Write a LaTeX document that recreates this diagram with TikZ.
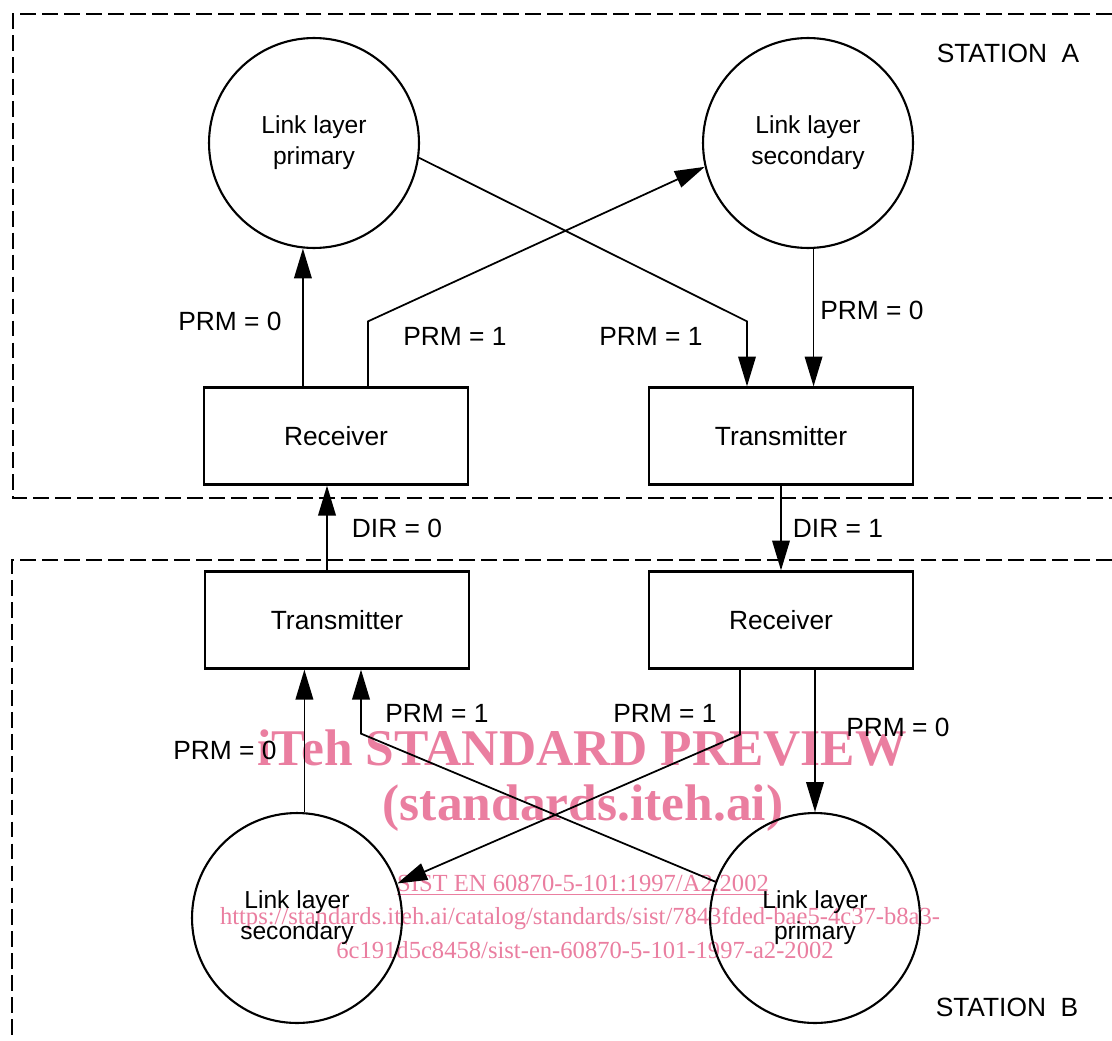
\documentclass[tikz,border=0pt]{standalone}
\usepackage{fontspec}
\setmainfont{Liberation Sans}
\newfontfamily\wmfont{Liberation Serif}
\usetikzlibrary{arrows.meta,positioning,calc}
\definecolor{wmpink}{RGB}{234,126,160}
\tikzset{
  layer/.style={draw,circle,line width=1.2pt,minimum size=4.2cm,inner sep=0pt,align=center,font=\fontsize{14}{17.5}\selectfont},
  unit/.style={draw,line width=1.3pt,minimum width=5.28cm,minimum height=1.94cm,font=\fontsize{15}{18}\selectfont},
  lbl/.style={font=\fontsize{15}{18}\selectfont,inner sep=0pt},
  arr/.style={-{Triangle[length=17pt,width=10pt]},line width=1pt},
  stn/.style={dash pattern=on 9pt off 3.5pt,line width=1.1pt},
  wm/.style={text=wmpink,font=\wmfont\fontsize{14}{18}\selectfont,inner sep=0pt},
  wmbig/.style={wm,font=\wmfont\bfseries\fontsize{29.3}{30}\selectfont},
}
\begin{document}
\begin{tikzpicture}[x=0.02cm,y=-0.02cm]
  \useasboundingbox (0,0) rectangle (1112,1041);
  % watermark (behind the drawing)
  \node[wmbig] (wm1) at (582,748) {iTeh STANDARD PREVIEW};
  \node[wmbig] (wm2) at (583,808) {(standards.iteh.ai)};
  \node[wm] (wm3) at (583,885) {\underline{SIST EN 60870-5-101:1997/A2:2002}};
  \node[wm] (wm4) at (580,918) {https://standards.iteh.ai/catalog/standards/sist/7843fded-bae5-4c37-b8a3-};
  \node[wm] (wm5) at (585,950) {6c191d5c8458/sist-en-60870-5-101-1997-a2-2002};
  % station frames
  \draw[stn] (1112,14) -- (13,14) -- (13,498) -- (1112,498);
  \draw[stn] (1112,560) -- (12,560) -- (12,1041);
  \node[lbl] (sta) at (1008,53) {STATION\ \ A};
  \node[lbl] (stb) at (1007,1007) {STATION\ \ B};
  % station A
  \node[layer] (ap) at (314,143) {Link layer\\primary};
  \node[layer] (as) at (808,143) {Link layer\\secondary};
  \node[unit] (arx) at (336,436) {Receiver};
  \node[unit] (atx) at (781,436) {Transmitter};
  \draw[arr] (ap.264 |- arx.north) -- (ap.264);
  \draw[arr] ($(arx.north)+(32,0)$) -- ++(0,-65) -- (as.193);
  \draw[arr] (ap.-8) -- ($(atx.north)+(-34,-65)$) -- ($(atx.north)+(-34,0)$);
  \draw[arr] (as.-87) -- (as.-87 |- atx.north);
  \node[lbl] (a0) at (230,321) {PRM = 0};
  \node[lbl] (a1) at (455,336) {PRM = 1};
  \node[lbl] (a2) at (651,336) {PRM = 1};
  \node[lbl] (a3) at (872,310) {PRM = 0};
  % station B
  \node[unit] (btx) at (337,620) {Transmitter};
  \node[unit] (brx) at (781,620) {Receiver};
  \node[layer] (bs) at (297,918) {Link layer\\secondary};
  \node[layer] (bp) at (815,918) {Link layer\\primary};
  \draw[arr] (bs.86) -- (bs.86 |- btx.south);
  \draw[arr] (bp.160) -- ($(btx.south)+(24,64)$) -- ($(btx.south)+(24,0)$);
  \draw[arr] ($(brx.south)+(-41,0)$) -- ++(0,65) -- (bs.19);
  \draw[arr] (bp.north |- brx.south) -- (bp.north);
  \node[lbl] (b0) at (225,750) {PRM = 0};
  \node[lbl] (b1) at (437,713) {PRM = 1};
  \node[lbl] (b2) at (665,713) {PRM = 1};
  \node[lbl] (b3) at (898,727) {PRM = 0};
  % direction between stations
  \draw[arr] ($(btx.north)+(-10,0)$) -- ($(arx.south)+(-9,0)$);
  \draw[arr] (atx.south) -- (brx.north);
  \node[lbl] (d0) at (397,528) {DIR = 0};
  \node[lbl] (d1) at (838,528) {DIR = 1};
\end{tikzpicture}
\end{document}
